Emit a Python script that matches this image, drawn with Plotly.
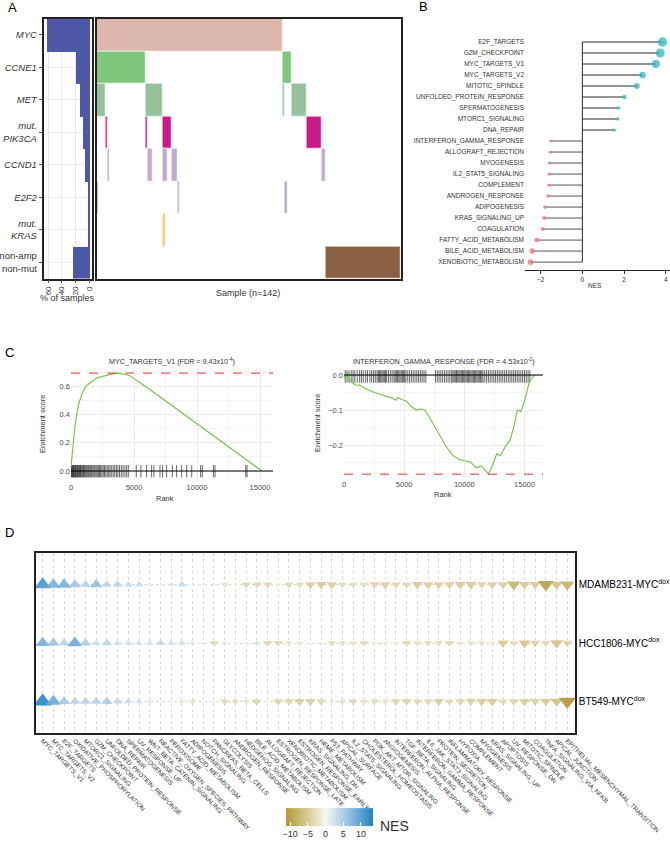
import plotly.graph_objects as go

W, H = 670, 847
FONT = "Liberation Sans, Arial, Helvetica, sans-serif"
TXT = "#333333"

def xd(a, b):
    return [a / W, b / W]

def yd(top, bottom):
    return [1 - bottom / H, 1 - top / H]

# ---------------- Panel A data ----------------
genes = ["MYC", "CCNE1", "MET", "PIK3CA", "CCND1", "E2F2", "KRAS", "none"]
gene_labels = ["<i>MYC</i>", "<i>CCNE1</i>", "<i>MET</i>", "<i>mut.<br>PIK3CA</i>",
               "<i>CCND1</i>", "<i>E2F2</i>", "<i>mut.<br>KRAS</i>", "non-amp<br>non-mut"]
pct_samples = [63, 19.2, 14.3, 9.4, 6.9, 2.6, 0.9, 25]
n_samples = 142
myc_start, myc_len = [0], [87]
ccne1_start, ccne1_len = [0, 87], [23, 4]
met_start, met_len = [0, 23, 87, 91], [4, 8, 1, 7]
pik3ca_start, pik3ca_len = [4, 23, 31, 98], [1, 1, 4, 7]
ccnd1_start, ccnd1_len = [5, 24, 31, 35, 105], [1, 2, 2, 3, 2]
e2f2_start, e2f2_len = [0, 38, 88], [1, 1, 1]
kras_start, kras_len = [31], [1]
none_start, none_len = [107], [35]
block_starts = [myc_start, ccne1_start, met_start, pik3ca_start, ccnd1_start, e2f2_start, kras_start, none_start]
block_lens = [myc_len, ccne1_len, met_len, pik3ca_len, ccnd1_len, e2f2_len, kras_len, none_len]
gene_colors = ["#DBB7AD", "#7EC67B", "#95C19D", "#C81A88", "#C4A9CC", "#A9B3C2", "#F8C67F", "#8A6142"]

# ---------------- Panel B data ----------------
b_sets = ["E2F_TARGETS", "G2M_CHECKPOINT", "MYC_TARGETS_V1", "MYC_TARGETS_V2", "MITOTIC_SPINDLE",
          "UNFOLDED_PROTEIN_RESPONSE", "SPERMATOGENESIS", "MTORC1_SIGNALING", "DNA_REPAIR",
          "INTERFERON_GAMMA_RESPONSE", "ALLOGRAFT_REJECTION", "MYOGENESIS", "IL2_STAT5_SIGNALING",
          "COMPLEMENT", "ANDROGEN_RESPONSE", "ADIPOGENESIS", "KRAS_SIGNALING_UP", "COAGULATION",
          "FATTY_ACID_METABOLISM", "BILE_ACID_METABOLISM", "XENOBIOTIC_METABOLISM"]
b_nes = [3.84, 3.73, 3.52, 2.88, 2.61, 2.02, 1.74, 1.70, 1.54,
         -1.52, -1.55, -1.58, -1.60, -1.61, -1.65, -1.79, -1.84, -1.90, -2.19, -2.41, -2.49]

# ---------------- Panel C data ----------------
rank_myc = [0, 60, 130, 200, 260, 330, 420, 500, 600, 700, 800, 900, 1000, 1100, 1200, 1400, 1600,
            1800, 2000, 2300, 2600, 2900, 3200, 3500, 3800, 4100, 4400, 4700, 5000, 6000, 7000, 8000,
            9000, 10000, 11000, 12000, 13000, 14000, 14600, 15150]
es_myc = [0.03, 0.09, 0.16, 0.22, 0.28, 0.33, 0.38, 0.43, 0.47, 0.50, 0.53, 0.55, 0.57, 0.59, 0.60,
          0.615, 0.63, 0.645, 0.655, 0.665, 0.672, 0.678, 0.685, 0.69, 0.692, 0.688, 0.68, 0.672,
          0.655, 0.592, 0.528, 0.463, 0.398, 0.337, 0.269, 0.204, 0.139, 0.074, 0.036, 0.0]
hits_myc = [20, 60, 110, 150, 200, 260, 310, 350, 400, 470, 520, 580, 640, 690, 750, 800, 870, 930,
            1000, 1060, 1120, 1200, 1270, 1350, 1420, 1500, 1580, 1650, 1740, 1820, 1900, 1990, 2080,
            2170, 2260, 2350, 2450, 2560, 2660, 2770, 2880, 3000, 3100, 3230, 3350, 3470, 3600, 3720,
            3850, 3990, 4130, 4280, 4420, 4550, 5180, 5550, 6000, 6400, 6580, 7060, 7270, 7590, 8040,
            8380, 8780, 9180, 9580, 10290, 10420, 11300, 11430, 13870, 13970]
rank_ifng = [0, 150, 300, 450, 700, 1000, 1300, 1600, 2000, 2500, 3000, 3500, 4000, 4300, 4500, 4800,
             5200, 5600, 6000, 6400, 6700, 7000, 7500, 8000, 8500, 9000, 9500, 10000, 10500, 11000,
             11400, 11700, 12000, 12300, 12700, 13000, 13400, 13800, 14100, 14400, 14700, 15000,
             15200, 15400, 15600, 15800]
es_ifng = [0.0, -0.012, 0.008, -0.015, -0.022, -0.03, -0.028, -0.036, -0.042, -0.05, -0.055, -0.06,
           -0.066, -0.072, -0.064, -0.07, -0.075, -0.09, -0.1, -0.097, -0.1, -0.115, -0.145, -0.175,
           -0.205, -0.228, -0.24, -0.245, -0.248, -0.265, -0.26, -0.27, -0.283, -0.262, -0.225, -0.23,
           -0.205, -0.186, -0.15, -0.1, -0.105, -0.075, -0.05, -0.02, -0.01, 0.0]
hits_ifng = [100, 250, 420, 600, 750, 900, 1100, 1300, 1450, 1600, 1800, 1950, 2150, 2300, 2450, 2600,
             2750, 2850, 2950, 3050, 3150, 3250, 3350, 3450, 3550, 3700, 3850, 4000, 4150, 4250, 4350,
             4450, 4550, 4650, 4750, 4850, 4950, 5050, 5150, 5300, 5450, 5600, 5750, 5900, 6050, 6200,
             6350, 6500, 6650, 6800, 7600, 7750, 7900, 8050, 8200, 8350, 8500, 8650, 8800, 8950, 9050,
             9150, 9250, 9350, 9450, 9550, 9650, 9750, 9850, 9950, 10050, 10150, 10250, 10350, 10450,
             10550, 10650, 10750, 10850, 10950, 11050, 11150, 11250, 11350, 11450, 11550, 11700, 11850,
             12000, 12150, 12300, 12450, 12600, 12750, 12900, 13050, 13200, 13350, 13500, 13650, 13800,
             13950, 14100, 14250, 14400, 14550, 14700, 14850, 15000, 15150, 15300, 15450]
rank_ticks = [0, 5000, 10000, 15000]

# ---------------- Panel D data ----------------
d_sets = ["MYC_TARGETS_V1", "MYC_TARGETS_V2", "E2F_TARGETS", "OXIDATIVE_PHOSPHORYLATION",
          "MTORC1_SIGNALING", "G2M_CHECKPOINT", "UNFOLDED_PROTEIN_RESPONSE", "DNA_REPAIR",
          "SPERMATOGENESIS", "UV_RESPONSE_UP", "WNT_BETA_CATENIN_SIGNALING",
          "REACTIVE_OXYGEN_SPECIES_PATHWAY", "PEROXISOME", "FATTY_ACID_METABOLISM", "ADIPOGENESIS",
          "NOTCH_SIGNALING", "PANCREAS_BETA_CELLS", "GLYCOLYSIS", "ANDROGEN_RESPONSE",
          "HEDGEHOG_SIGNALING", "BILE_ACID_METABOLISM", "ALLOGRAFT_REJECTION", "ESTROGEN_RESPONSE_LATE",
          "XENOBIOTIC_METABOLISM", "ESTROGEN_RESPONSE_EARLY", "KRAS_SIGNALING_DN", "HEME_METABOLISM",
          "P53_PATHWAY", "APICAL_SURFACE", "IL2_STAT5_SIGNALING", "CHOLESTEROL_HOMEOSTASIS",
          "PI3K_AKT_MTOR_SIGNALING", "ANGIOGENESIS", "INTERFERON_ALPHA_RESPONSE", "TGF_BETA_SIGNALING",
          "INTERFERON_GAMMA_RESPONSE", "IL6_JAK_STAT3_SIGNALING", "PROTEIN_SECRETION",
          "INFLAMMATORY_RESPONSE", "HYPOXIA", "COMPLEMENT", "MYOGENESIS", "KRAS_SIGNALING_UP",
          "APOPTOSIS", "UV_RESPONSE_DN", "MITOTIC_SPINDLE", "COAGULATION", "TNFA_SIGNALING_VIA_NFKB",
          "APICAL_JUNCTION", "EPITHELIAL_MESENCHYMAL_TRANSITION"]
cell_lines = ["MDAMB231-MYC<sup>dox</sup>", "HCC1806-MYC<sup>dox</sup>", "BT549-MYC<sup>dox</sup>"]
nes_mdamb231 = [11, 8, 8, 6, 4.5, 6.5, 4, 4, 3, 3, 1.5, 0.5, 2, 3.5, 0.8, -0.8, 1, -2.5, 0.5, -3.5,
                -3.5, -3.5, -1.5, -3.5, -3, -4.5, -5, -4.5, -3, -3, -3, -4, -4.5, -3.5, -3.5, -5, -4.5,
                -4.5, -4.5, -5, -5, -4, -4.5, -4.5, -7.5, -5, -5, -10, -6, -8]
nes_hcc1806 = [8, 6, 4.5, 9, 5, 3, 4, 2.5, 2.5, 2.5, 2.5, 3.5, 2.5, 2.5, 2, 0.5, -3, 1.5, -1, -1, 2,
               -3.5, -3.5, -2.5, -2, -0.5, 0.3, -3, -2.5, -2.5, -3, -1.5, -2, -1.5, -3.5, -2.5, -3, -3,
               -3.5, -2, -2.5, -2.5, -2, -5, -3, -5.5, -4, -3.5, -6, -4]
nes_bt549 = [13, 9, 5.5, 4.5, 4.5, 4.5, 5, 3.5, 3, 2.5, 1.5, 0.3, -0.8, -2, -2.5, 0.3, 1, -3.5, -3, -2,
             -4, -0.5, -4, -4, -4.5, -4.5, -3.5, -1.5, -2.5, -3.5, -2.5, -3, -2.5, -4, -4, -3.5, -3.5,
             -4.5, -3.5, -4, -4.5, -5, -5, -3.5, -4, -5, -4.5, -5, -6, -11.5]
nes_rows = [nes_mdamb231, nes_hcc1806, nes_bt549]
nes_ticks = [-10, -5, 0, 5, 10]

fig = go.Figure()

# ---------------- Panel A ----------------
nrow = len(genes)
rowpos = [nrow - 1 - i for i in range(nrow)]
fig.add_trace(go.Bar(x=pct_samples, y=rowpos, orientation="h", width=1,
                     marker=dict(color="#4F58A7", line=dict(width=0)),
                     xaxis="x", yaxis="y", showlegend=False, hoverinfo="skip"))
for i, g in enumerate(genes):
    fig.add_trace(go.Bar(x=block_lens[i], base=block_starts[i], y=[rowpos[i]] * len(block_lens[i]),
                         orientation="h", width=1,
                         marker=dict(color=gene_colors[i], line=dict(width=0.6, color="white")),
                         xaxis="x2", yaxis="y2", showlegend=False, name=g))

frame = dict(showline=True, mirror=True, linecolor="#222222", linewidth=1.5, zeroline=False,
             automargin=False)
fig.update_layout(
    xaxis=dict(domain=xd(43.5, 91.5), range=[66.7, -3.5], tickvals=[60, 40, 20, 0], tickangle=-90,
               ticks="outside", ticklen=3, tickcolor="#555", tickfont=dict(size=8, color=TXT),
               showgrid=True, gridcolor="#E8E8E8", anchor="y", **frame),
    yaxis=dict(domain=yd(18.5, 278.5), range=[-0.5, nrow - 0.5], tickvals=rowpos, ticktext=gene_labels,
               ticks="outside", ticklen=3, tickcolor="#555", tickfont=dict(size=9.5, color=TXT),
               showgrid=True, gridcolor="#EDEDED", anchor="x", **frame),
    xaxis2=dict(domain=xd(96.5, 400.5), range=[0, n_samples], showticklabels=False, ticks="",
                showgrid=False, anchor="y2", **frame),
    yaxis2=dict(domain=yd(18.5, 278.5), range=[-0.5, nrow - 0.5], showticklabels=False, ticks="",
                showgrid=False, anchor="x2", **frame),
)

# ---------------- Panel B ----------------
nb = len(b_sets)
bpos = [nb - 1 - i for i in range(nb)]
for sign, col in [(1, "#2A2A2A"), (-1, "#555555")]:
    sx, sy = [], []
    for v, p in zip(b_nes, bpos):
        if v * sign > 0:
            sx += [0, v, None]
            sy += [p, p, None]
    fig.add_trace(go.Scatter(x=sx, y=sy, mode="lines", line=dict(color=col, width=1),
                             xaxis="x3", yaxis="y3", showlegend=False, hoverinfo="skip"))
fig.add_trace(go.Scatter(x=[0, 0], y=[min(bpos), max(bpos)], mode="lines",
                         line=dict(color="#2A2A2A", width=1), xaxis="x3", yaxis="y3",
                         showlegend=False, hoverinfo="skip"))
fig.add_trace(go.Scatter(x=b_nes, y=bpos, mode="markers",
                         marker=dict(size=[3 + (abs(v) - 1.5) * 2.7 for v in b_nes],
                                     color=["#22B5BF" if v > 0 else "#F16B6B" for v in b_nes],
                                     line=dict(width=0)),
                         xaxis="x3", yaxis="y3", showlegend=False))
fig.update_layout(
    xaxis3=dict(domain=xd(525, 670), range=[-2.75, 4.2], tickvals=[-2, 0, 2, 4], ticks="outside",
                ticklen=3, tickcolor="#333", showline=True, linecolor="#222", linewidth=1,
                showgrid=False, zeroline=False, tickfont=dict(size=6.5, color=TXT), anchor="y3",
                automargin=False),
    yaxis3=dict(domain=yd(35.4, 270), range=[-0.72, nb - 1 + 0.6], tickvals=bpos, ticktext=b_sets,
                ticks="", showline=False, showgrid=False, zeroline=False,
                tickfont=dict(size=6.5, color=TXT), anchor="x3", automargin=False),
)

# ---------------- Panel C ----------------
def rug(hits, lo, hi):
    xs, ys = [], []
    for p in hits:
        xs += [p, p, None]
        ys += [lo, hi, None]
    return xs, ys

rx, ry = rug(hits_myc, -0.045, 0.042)
fig.add_trace(go.Scatter(x=rx, y=ry, mode="lines", line=dict(color="rgba(0,0,0,0.75)", width=0.8),
                         xaxis="x4", yaxis="y4", showlegend=False, hoverinfo="skip"))
fig.add_trace(go.Scatter(x=rank_myc, y=es_myc, mode="lines", line=dict(color="#74C043", width=1.1),
                         xaxis="x4", yaxis="y4", showlegend=False))
rx, ry = rug(hits_ifng, -0.022, 0.014)
fig.add_trace(go.Scatter(x=rx, y=ry, mode="lines", line=dict(color="rgba(0,0,0,0.75)", width=0.8),
                         xaxis="x5", yaxis="y5", showlegend=False, hoverinfo="skip"))
fig.add_trace(go.Scatter(x=rank_ifng, y=es_ifng, mode="lines", line=dict(color="#74C043", width=1.1),
                         xaxis="x5", yaxis="y5", showlegend=False))

cgrid = dict(showgrid=True, gridcolor="#EBEBEB", gridwidth=0.8, zeroline=False, showline=False,
             ticks="", tickfont=dict(size=7.5, color="#4D4D4D"), automargin=False)
fig.update_layout(
    xaxis4=dict(domain=xd(71, 273), range=[0, 16030], tickvals=rank_ticks,
                ticktext=[str(t) for t in rank_ticks],
                minor=dict(showgrid=True, gridcolor="#F4F4F4", dtick=2500, tick0=0), anchor="y4", **cgrid),
    yaxis4=dict(domain=yd(368, 481), range=[-0.0707, 0.728], tickvals=[0, 0.2, 0.4, 0.6],
                ticktext=["0.0", "0.2", "0.4", "0.6"],
                minor=dict(showgrid=True, gridcolor="#F4F4F4", dtick=0.1, tick0=0), anchor="x4", **cgrid),
    xaxis5=dict(domain=xd(344, 543), range=[0, 16540], tickvals=rank_ticks,
                ticktext=[str(t) for t in rank_ticks],
                minor=dict(showgrid=True, gridcolor="#F4F4F4", dtick=2500, tick0=0), anchor="y5", **cgrid),
    yaxis5=dict(domain=yd(368, 478), range=[-0.294, 0.02], tickvals=[0, -0.1, -0.2],
                ticktext=["0.0", "\u22120.1", "\u22120.2"],
                minor=dict(showgrid=True, gridcolor="#F4F4F4", dtick=0.05, tick0=0), anchor="x5", **cgrid),
)
shapes = []
for xa, ya, lvl in [("x4", "y4", max(es_myc)), ("x5", "y5", min(es_ifng))]:
    shapes.append(dict(type="line", xref=xa + " domain", yref=ya, x0=0, x1=1, y0=0, y1=0,
                       line=dict(color="black", width=1)))
    shapes.append(dict(type="line", xref=xa + " domain", yref=ya, x0=0, x1=1, y0=lvl, y1=lvl,
                       line=dict(color="#E8322C", width=1, dash="dash")))

# ---------------- Panel D ----------------
dx, dy, dc, ds, dsym = [], [], [], [], []
for r, vals in enumerate(nes_rows):
    for c, v in enumerate(vals):
        dx.append(c + 1)
        dy.append(len(nes_rows) - r)
        dc.append(v)
        ds.append(4.4 * abs(v) ** 0.5)
        dsym.append("triangle-up" if v >= 0 else "triangle-down")
cmin, cmax = -11.2, 13.4
z0 = -cmin / (cmax - cmin)
cscale = [[0, "#B29939"], [z0 * 0.5, "#D4C68A"], [z0, "#F7F6F2"], [z0 + (1 - z0) * 0.4, "#A9CAE5"],
          [1, "#2385C2"]]
fig.add_trace(go.Scatter(
    x=dx, y=dy, mode="markers", xaxis="x6", yaxis="y6", showlegend=False,
    marker=dict(symbol=dsym, size=ds, color=dc, colorscale=cscale, cmin=cmin, cmax=cmax, opacity=0.92,
                line=dict(width=0),
                colorbar=dict(orientation="h", x=329.5 / W, xanchor="center", y=1 - 825.5 / H,
                              yanchor="middle", len=87, lenmode="pixels", thickness=18,
                              thicknessmode="pixels", outlinewidth=0, xpad=0, ypad=0,
                              tickvals=nes_ticks,
                              ticktext=[("\u2212" + str(-t)) if t < 0 else str(t) for t in nes_ticks],
                              tickangle=0, ticks="inside", ticklen=4, tickcolor="white",
                              tickfont=dict(size=9, color=TXT)))))
fig.update_layout(
    xaxis6=dict(domain=xd(35.7, 575), range=[0.35, 50.72], tickvals=list(range(1, len(d_sets) + 1)),
                ticktext=d_sets, tickangle=45, ticks="", tickfont=dict(size=6.3, color=TXT),
                showgrid=True, gridcolor="#D9D9D9", griddash="dot", gridwidth=0.8, anchor="y6", **frame),
    yaxis6=dict(domain=yd(553, 733), range=[0.46, 3.54], tickvals=[3, 2, 1], ticktext=cell_lines,
                side="right", ticks="", tickfont=dict(size=10, color="black"),
                showgrid=True, gridcolor="#D9D9D9", griddash="dot", gridwidth=0.8, anchor="x6", **frame),
)

# ---------------- Annotations ----------------
def ann(text, px, py, size, color=TXT, angle=0, xanchor="center"):
    return dict(text=text, x=px / W, y=1 - py / H, xref="paper", yref="paper", showarrow=False,
                font=dict(size=size, color=color, family=FONT), textangle=angle,
                xanchor=xanchor, yanchor="middle")

annotations = [
    ann("A", 12, 8, 13, "black"), ann("B", 423, 7, 13, "black"),
    ann("C", 9, 352, 13, "black"), ann("D", 9, 532, 13, "black"),
    ann("% of samples", 67, 298, 9), ann("Sample (n=142)", 248, 293, 9),
    ann("NES", 595, 285, 6.5),
    ann("MYC_TARGETS_V1 (FDR = 9.43x10<sup>-4</sup>)", 172, 361, 7.2),
    ann("INTERFERON_GAMMA_RESPONSE (FDR = 4.53x10<sup>-2</sup>)", 443.5, 361, 7.2),
    ann("Enrichment score", 42, 424, 7.5, angle=-90), ann("Enrichment score", 318, 423, 7.5, angle=-90),
    ann("Rank", 165, 498, 7.5), ann("Rank", 443, 494, 7.5),
    ann("NES", 378, 826, 14, xanchor="left"),
]

fig.update_layout(width=W, height=H, autosize=False,
                  margin=dict(l=0, r=0, t=0, b=0, pad=0, autoexpand=False),
                  paper_bgcolor="white", plot_bgcolor="white", barmode="overlay", bargap=0,
                  font=dict(family=FONT, color=TXT), shapes=shapes, annotations=annotations,
                  showlegend=False)

fig.write_html("out.html", config={"displayModeBar": False},
               post_script="document.body.style.margin='0px';document.body.style.overflow='hidden';")
